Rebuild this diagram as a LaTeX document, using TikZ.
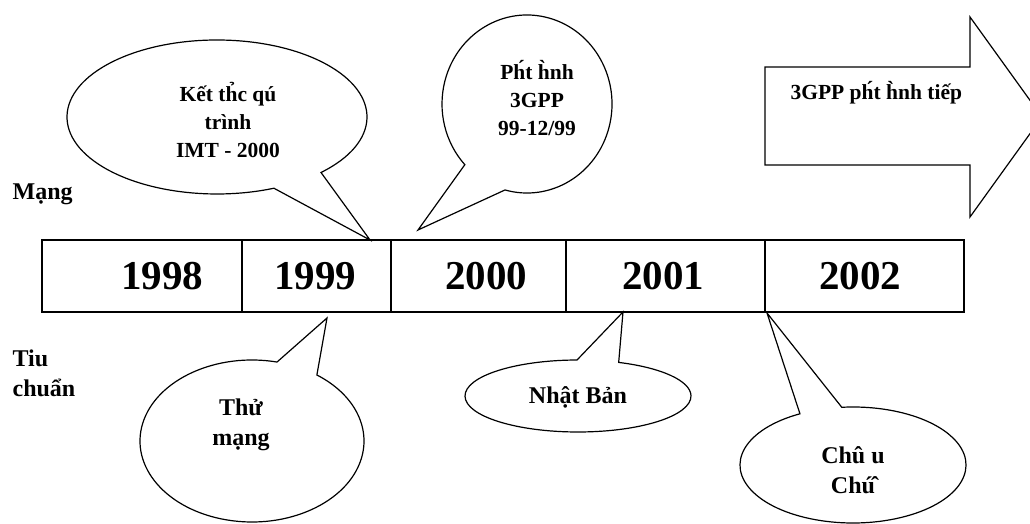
\documentclass[tikz,border=0pt]{standalone}
\usepackage{fontspec}
\setmainfont{Liberation Serif}

\begin{document}
\begin{tikzpicture}[x=1pt,y=1pt,line width=1.2pt,line join=miter,
    lbl/.style={font=\bfseries\fontsize{21.5}{28}\selectfont,align=center,inner sep=0pt},
    lblb/.style={font=\bfseries\fontsize{24}{30}\selectfont,align=center,inner sep=0pt},
    yr/.style={font=\bfseries\fontsize{41}{41}\selectfont,inner sep=0pt},
    bubble/.style={draw,fill=white}]
  \useasboundingbox (0,0) rectangle (1030,524);
  \clip (0,0) rectangle (1030,524);

  % time line
  \draw (42,212) rectangle (964,284);
  \foreach \xx in {242,391,566,765}
    \draw (\xx,212) -- (\xx,284);
  \node[yr] (y98) at (162,248) {1998};
  \node[yr] (y99) at (315,248) {1999};
  \node[yr] (y00) at (486,248) {2000};
  \node[yr] (y01) at (663,248) {2001};
  \node[yr] (y02) at (860,248) {2002};

  % row labels
  \node[lblb,anchor=base west] (mang) at (12,324) {Mạng};
  \node[lblb,anchor=base west] (tiu) at (12,157) {Tiu};
  \node[lblb,anchor=base west] (chuan) at (12,127) {chuẩn};

  % callouts above the line
  \draw[bubble] (217,407) ++(-46.1:150 and 77)
    arc[start angle=-46.1,end angle=292.3,x radius=150,y radius=77]
    -- (370,284) -- cycle;
  \node[lbl] (imt) at (228,404) {Kết th̉c qú\\trình\\IMT - 2000};

  \draw[bubble] (527,420) ++(255:85 and 89)
    arc[start angle=255,end angle=583,x radius=85,y radius=89]
    -- (418,294) -- cycle;
  \node[lbl] (phat) at (537,426) {Ph́t h̀nh\\3GPP\\99-12/99};

  % arrow on the right
  \draw (765,457) -- (970,457) -- (970,507) -- (1042,407)
    -- (970,307) -- (970,359) -- (765,359) -- cycle;
  \node[lbl,anchor=base west] (tiep) at (790,424) {3GPP ph́t h̀nh tiếp};

  % callouts below the line
  \draw[bubble] (252,83) ++(77.1:112 and 81)
    arc[start angle=77.1,end angle=414.6,x radius=112,y radius=81]
    -- (327,206) -- cycle;
  \node[lblb] (thu) at (241,99) {Thử\\mạng};

  \draw[bubble] (578,128) ++(90.5:113 and 36)
    arc[start angle=90.5,end angle=428.9,x radius=113,y radius=36]
    -- (623,212) -- cycle;
  \node[lblb] (nhat) at (578,127) {Nhật Bản};

  \draw[bubble] (853,59) ++(118:113 and 58)
    arc[start angle=118,end angle=455.7,x radius=113,y radius=58]
    -- (767,211) -- cycle;
  \node[lblb] (chau) at (853,54) {Chû u\\Chú̂};
\end{tikzpicture}
\end{document}
